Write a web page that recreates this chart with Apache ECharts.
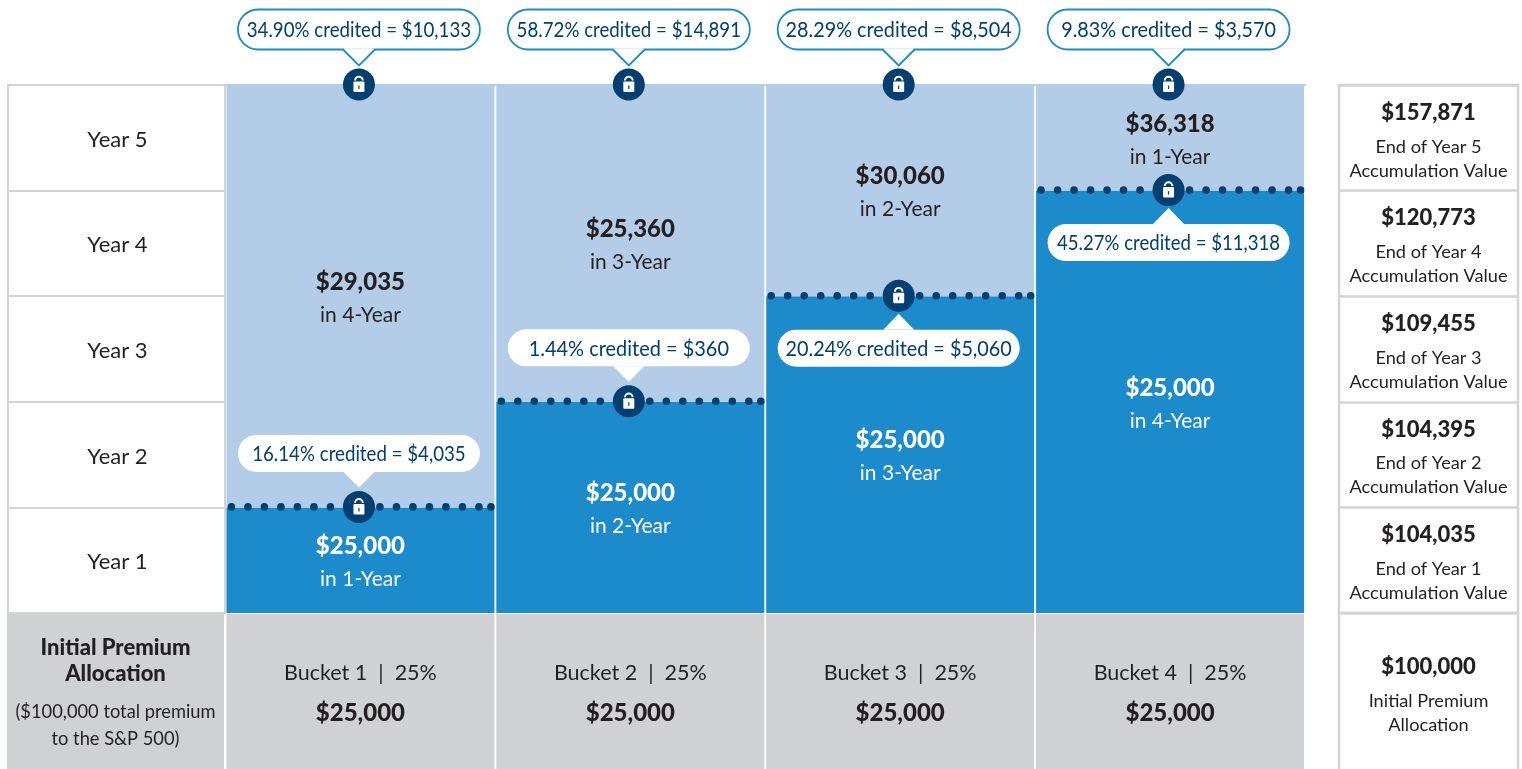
<!DOCTYPE html>
<html>
<head>
<meta charset="utf-8">
<title>Bucket allocation</title>
<script src="https://cdn.jsdelivr.net/npm/echarts@6/dist/echarts.min.js"></script>
<style>
  html, body { margin: 0; padding: 0; background: #fff; overflow: hidden; }
  #chart { width: 1522px; height: 769px; }
</style>
</head>
<body>
<div id="chart"></div>
<script>
const years = ["Year 1", "Year 2", "Year 3", "Year 4", "Year 5"];
const buckets = ["Bucket 1", "Bucket 2", "Bucket 3", "Bucket 4"];
const bucketShares = ["25%", "25%", "25%", "25%"];
const bucketAmounts = ["$25,000", "$25,000", "$25,000", "$25,000"];

const termYears = [1, 2, 3, 4];
const remainingYears = [4, 3, 2, 1];
const termAmounts = ["$25,000", "$25,000", "$25,000", "$25,000"];
const termLabels = ["in 1-Year", "in 2-Year", "in 3-Year", "in 4-Year"];
const renewAmounts = ["$29,035", "$25,360", "$30,060", "$36,318"];
const renewLabels = ["in 4-Year", "in 3-Year", "in 2-Year", "in 1-Year"];

const topCredits = [
  "34.90% credited = $10,133",
  "58.72% credited = $14,891",
  "28.29% credited = $8,504",
  "9.83% credited = $3,570",
];
const lockCredits = [
  "16.14% credited = $4,035",
  "1.44% credited = $360",
  "20.24% credited = $5,060",
  "45.27% credited = $11,318",
];

const yearEndValues = ["$104,035", "$104,395", "$109,455", "$120,773", "$157,871"];
const yearEndLabels = ["End of Year 1", "End of Year 2", "End of Year 3", "End of Year 4", "End of Year 5"];

const FONT = "Lato, 'Open Sans', sans-serif";
const NAVY = "#003f6f";
const BLUE = "#1b8bcb";
const LIGHT = "#b3cde8";
const GRAY = "#d0d1d3";
const LINE = "#d3d4d6";
const INK = "#231f20";

// Lato figures are tabular, so squeeze by how many narrow 1s the label has
const CALLOUT_SQUEEZE = [0.943, 0.95, 0.89, 0.885];

const chart = echarts.init(document.getElementById("chart"));

// rich text style shorthand
function txt(size, weight, color, lineHeight) {
  return { fontFamily: FONT, fontSize: size, fontWeight: weight, color: color, lineHeight: lineHeight, align: "center" };
}

// lock badge, drawn around (0,0)
function lockBadge(x, y) {
  return {
    type: "group",
    x: x,
    y: y,
    children: [
      { type: "circle", shape: { cx: 0, cy: 0, r: 16 }, style: { fill: NAVY } },
      { type: "arc", shape: { cx: 0, cy: -4, r: 3.8, startAngle: Math.PI, endAngle: Math.PI * 2 }, style: { fill: null, stroke: "#fff", lineWidth: 2 } },
      { type: "rect", shape: { x: -5.5, y: -3, width: 11, height: 10.5, r: 1 }, style: { fill: "#fff" } },
      { type: "rect", shape: { x: -0.6, y: 1, width: 1.2, height: 3.5 }, style: { fill: NAVY } },
    ],
  };
}

// pill with pointer, tip faces the lock
function callout(x, y, text, below, outlined) {
  const w = 242;
  const h = outlined ? 40 : 37;
  const top = below ? y + 34 : y - (outlined ? 35.5 : 35) - h;
  const baseY = below ? top : top + h;
  const tipY = below ? y + 18 : y - 19.5;
  const stroke = outlined ? BLUE : null;
  const ones = text.split("1").length - 1;
  const children = [
    { type: "rect", shape: { x: x - w / 2, y: top, width: w, height: h, r: h / 2 }, style: { fill: "#fff", stroke: stroke, lineWidth: 1.8 } },
    { type: "polygon", shape: { points: [[x - 15.5, baseY], [x, tipY], [x + 15.5, baseY]] }, style: { fill: "#fff" } },
  ];
  if (outlined) {
    // open the pill outline under the pointer
    children.push({ type: "rect", shape: { x: x - 15, y: baseY - 1.2, width: 30, height: 2.4 }, style: { fill: "#fff" } });
    children.push({ type: "polyline", shape: { points: [[x - 16, baseY], [x, tipY], [x + 16, baseY]] }, style: { fill: null, stroke: BLUE, lineWidth: 1.8 } });
  }
  children.push({
    type: "text",
    x: x,
    y: top + h / 2 + 1,
    scaleX: CALLOUT_SQUEEZE[ones],
    style: { text: text, x: 0, y: 0, align: "center", verticalAlign: "middle", fill: NAVY, fontFamily: FONT, fontSize: 21 },
  });
  return { type: "group", children: children };
}

function renderTopLock(params, api) {
  const p = api.coord([api.value(0), api.value(1)]);
  const x = p[0] - 1.5;
  return {
    type: "group",
    children: [callout(x, p[1], topCredits[params.dataIndex], false, true), lockBadge(x, p[1] - 0.5)],
  };
}

function renderBucketLock(params, api) {
  const i = params.dataIndex;
  const p = api.coord([api.value(0), api.value(1)]);
  const x = p[0] - 1.5;
  const y = p[1] - 0.5;
  return {
    type: "group",
    children: [
      {
        type: "line",
        shape: { x1: x - 127.5, y1: y, x2: x + 122, y2: y },
        style: { stroke: NAVY, lineWidth: 7.6, lineCap: "round", lineDash: [0, 16.5] },
      },
      { type: "circle", shape: { cx: x + 132, cy: y, r: 3.8 }, style: { fill: NAVY } },
      callout(x, y, lockCredits[i], i >= 2, false),
      lockBadge(x, y),
    ],
  };
}

const option = {
  animation: false,
  backgroundColor: "#fff",
  textStyle: { fontFamily: FONT },
  grid: [
    { left: 225.5, top: 85, width: 1079.5, height: 528, outerBoundsMode: "none" },
    { left: 8, top: 85, width: 217, height: 528, show: true, borderColor: LINE, borderWidth: 2, backgroundColor: "#fff", outerBoundsMode: "none" },
    { left: 7, top: 614, width: 217, height: 155, outerBoundsMode: "none" },
    { left: 225.5, top: 614, width: 1079.5, height: 155, outerBoundsMode: "none" },
    { left: 1339, top: 85, width: 179, height: 528, show: true, borderColor: LINE, borderWidth: 2.5, backgroundColor: "#fff", outerBoundsMode: "none" },
    { left: 1339, top: 613, width: 179, height: 180, show: true, borderColor: LINE, borderWidth: 2.5, backgroundColor: "#fff", outerBoundsMode: "none" },
  ],
  xAxis: [
    { gridIndex: 0, type: "category", data: buckets, position: "top", axisLine: { show: true, onZero: false, lineStyle: { color: LIGHT, width: 2 } }, axisTick: { show: false }, axisLabel: { show: false } },
    { gridIndex: 1, type: "value", min: 0, max: 1, show: false },
    { gridIndex: 2, type: "category", data: ["Initial Premium Allocation"], show: false },
    { gridIndex: 3, type: "category", data: buckets, show: false },
    { gridIndex: 4, type: "value", min: 0, max: 1, show: false },
    { gridIndex: 5, type: "category", data: ["Initial Premium Allocation"], show: false },
  ],
  yAxis: [
    { gridIndex: 0, type: "value", min: 0, max: 5, interval: 1, show: false },
    {
      gridIndex: 1, type: "category", data: years,
      axisLine: { show: false }, axisTick: { show: false }, axisLabel: { show: false },
      splitLine: { show: true, interval: 0, lineStyle: { color: LINE, width: 2 } },
    },
    { gridIndex: 2, type: "value", min: 0, max: 1, show: false },
    { gridIndex: 3, type: "value", min: 0, max: 1, show: false },
    {
      gridIndex: 4, type: "category", data: yearEndLabels,
      axisLine: { show: false }, axisTick: { show: false }, axisLabel: { show: false },
      splitLine: { show: true, interval: 0, lineStyle: { color: LINE, width: 2.5 } },
    },
    { gridIndex: 5, type: "value", min: 0, max: 1, show: false },
  ],
  series: [
    {
      name: "Term",
      type: "bar",
      stack: "bucket",
      xAxisIndex: 0,
      yAxisIndex: 0,
      data: termYears,
      barWidth: 268,
      itemStyle: { color: BLUE },
      label: {
        show: true,
        position: "inside",
        offset: [0, 2],
        formatter: (p) => `{v|${termAmounts[p.dataIndex]}}\n{t|${termLabels[p.dataIndex]}}`,
        rich: { v: txt(24, 900, "#fff", 34), t: txt(21, 400, "#fff", 32) },
      },
    },
    {
      name: "Renewal",
      type: "bar",
      stack: "bucket",
      xAxisIndex: 0,
      yAxisIndex: 0,
      data: remainingYears,
      barWidth: 268,
      itemStyle: { color: LIGHT },
      label: {
        show: true,
        position: "inside",
        offset: [0, 2],
        formatter: (p) => `{v|${renewAmounts[p.dataIndex]}}\n{t|${renewLabels[p.dataIndex]}}`,
        rich: { v: txt(24, 900, INK, 34), t: txt(21, 400, INK, 32) },
      },
    },
    {
      name: "Lock at term end",
      type: "custom",
      xAxisIndex: 0,
      yAxisIndex: 0,
      clip: false,
      z: 5,
      renderItem: renderBucketLock,
      data: termYears.map((y, i) => [i, y]),
    },
    {
      name: "Lock at year 5",
      type: "custom",
      xAxisIndex: 0,
      yAxisIndex: 0,
      clip: false,
      z: 5,
      renderItem: renderTopLock,
      data: buckets.map((b, i) => [i, years.length]),
    },
    {
      name: "Years",
      type: "bar",
      xAxisIndex: 1,
      yAxisIndex: 1,
      data: years.map(() => 1),
      barWidth: "100%",
      itemStyle: { color: "transparent" },
      label: {
        show: true,
        position: "inside",
        offset: [1, 2],
        formatter: (p) => years[p.dataIndex],
        fontFamily: FONT,
        fontSize: 22,
        color: INK,
      },
    },
    {
      name: "Allocation heading",
      type: "bar",
      xAxisIndex: 2,
      yAxisIndex: 2,
      data: [1],
      barWidth: "100%",
      itemStyle: { color: GRAY },
      label: {
        show: true,
        position: "inside",
        offset: [0, 2.5],
        formatter: "{h|Initial Premium}\n{h|Allocation}\n{s| }\n{n|($100,000 total premium}\n{n|to the S&P 500)}",
        rich: { h: txt(22, 900, INK, 26), s: txt(8, 400, INK, 12), n: txt(18.3, 400, INK, 27) },
      },
    },
    {
      name: "Bucket row",
      type: "bar",
      xAxisIndex: 3,
      yAxisIndex: 3,
      data: buckets.map(() => 1),
      barWidth: 268,
      itemStyle: { color: GRAY },
      label: {
        show: true,
        position: "inside",
        offset: [0, 2],
        formatter: (p) => `{b|${buckets[p.dataIndex]}  |  ${bucketShares[p.dataIndex]}}\n{v|${bucketAmounts[p.dataIndex]}}`,
        rich: { b: txt(21.5, 400, INK, 40), v: txt(24, 900, INK, 40) },
      },
    },
    {
      name: "Accumulation value",
      type: "bar",
      xAxisIndex: 4,
      yAxisIndex: 4,
      data: years.map(() => 1),
      barWidth: "100%",
      itemStyle: { color: "transparent" },
      label: {
        show: true,
        position: "inside",
        offset: [0, -1],
        formatter: (p) => `{v|${yearEndValues[p.dataIndex]}}\n{t|${yearEndLabels[p.dataIndex]}}\n{t|Accumulation Value}`,
        rich: { v: txt(22, 900, INK, 44), t: txt(18.2, 400, INK, 24) },
      },
    },
    {
      name: "Initial total",
      type: "bar",
      xAxisIndex: 5,
      yAxisIndex: 5,
      data: [1],
      barWidth: "100%",
      itemStyle: { color: "transparent" },
      label: {
        show: true,
        position: "top",
        distance: -124,
        formatter: "{v|$100,000}\n{t|Initial Premium}\n{t|Allocation}",
        rich: { v: txt(22, 900, INK, 44), t: txt(18.2, 400, INK, 24) },
      },
    },
  ],
};

chart.setOption(option);
window.addEventListener("resize", () => chart.resize());
</script>
</body>
</html>
